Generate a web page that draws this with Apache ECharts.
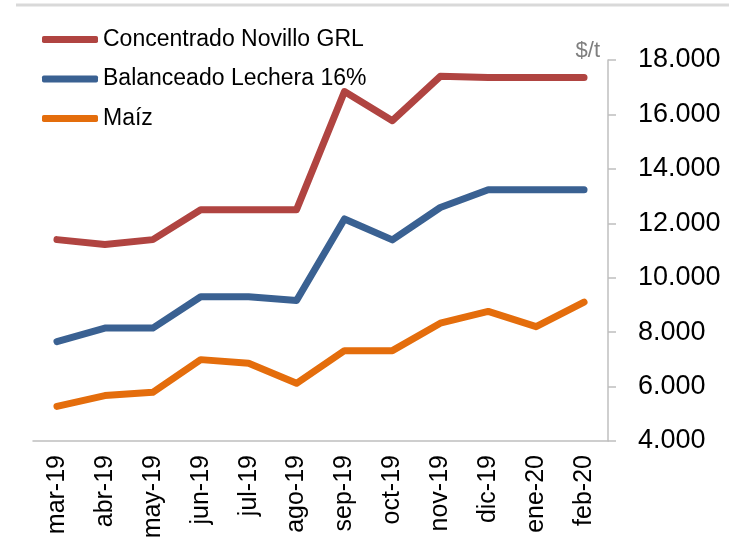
<!DOCTYPE html>
<html>
<head>
<meta charset="utf-8">
<script src="https://cdn.jsdelivr.net/npm/echarts@6/dist/echarts.min.js"></script>
<style>
  html, body { margin: 0; padding: 0; background: #fff; }
  #chart { width: 729px; height: 543px; }
</style>
</head>
<body>
<div id="chart"></div>
<script>
const months = ["mar-19", "abr-19", "may-19", "jun-19", "jul-19", "ago-19",
  "sep-19", "oct-19", "nov-19", "dic-19", "ene-20", "feb-20"];
const concentradoNovillo = [11400, 11220, 11400, 12500, 12500, 12500,
  16840, 15770, 17400, 17360, 17360, 17360];
const balanceadoLechera = [7650, 8150, 8150, 9300, 9300, 9160,
  12160, 11390, 12580, 13230, 13230, 13230];
const maiz = [5270, 5670, 5790, 6990, 6860, 6120,
  7320, 7320, 8330, 8760, 8200, 9100];

const seriesNames = ["Concentrado Novillo GRL", "Balanceado Lechera 16%", "Maíz"];
const seriesColors = ["#b04441", "#3a6192", "#e46d0c"];
const yTicks = { min: 4000, max: 18000, step: 2000 };

const font = '"Liberation Sans", Arial, sans-serif';
const chart = echarts.init(document.getElementById("chart"), null, { renderer: "canvas" });

function lineSeries(name, data, color) {
  return {
    type: "line",
    name: name,
    data: data,
    symbol: "none",
    color: color,
    lineStyle: { width: 7, color: color, cap: "round", join: "round" },
    animation: false,
  };
}

chart.setOption({
  animation: false,
  grid: { left: 33, right: 121, top: 60, bottom: 102 },
  graphic: [{
    type: "line",
    shape: { x1: 16, y1: 5, x2: 729, y2: 5 },
    style: { stroke: "#d9d9d9", lineWidth: 3 },
  }],
  legend: {
    orient: "vertical",
    left: 42,
    top: 28,
    padding: 0,
    itemWidth: 56,
    itemHeight: 7,
    itemGap: 16.5,
    icon: "roundRect",
    textStyle: { fontFamily: font, fontSize: 23, color: "#000", lineHeight: 22 },
    data: seriesNames,
  },
  xAxis: {
    type: "category",
    data: months,
    axisLine: { lineStyle: { color: "#bfbfbf", width: 1.5 } },
    axisTick: { length: 7, lineStyle: { color: "#bfbfbf", width: 1.5 } },
    axisLabel: { rotate: 90, fontFamily: font, fontSize: 25, color: "#000", margin: 14, interval: 0 },
  },
  yAxis: {
    type: "value",
    position: "right",
    min: yTicks.min,
    max: yTicks.max,
    interval: yTicks.step,
    name: "$/t",
    nameLocation: "end",
    nameGap: -2,
    nameTextStyle: { fontFamily: font, fontSize: 22, color: "#7f7f7f", align: "right", padding: [0, 8, 0, 0] },
    splitLine: { show: false },
    axisLine: { show: true, lineStyle: { color: "#bfbfbf", width: 1.5 } },
    axisTick: { show: true, length: 8, lineStyle: { color: "#bfbfbf", width: 1.5 } },
    axisLabel: {
      fontFamily: font, fontSize: 27, color: "#000", margin: 30,
      formatter: (v) => v.toLocaleString("de-DE"),
    },
  },
  series: [
    lineSeries(seriesNames[0], concentradoNovillo, seriesColors[0]),
    lineSeries(seriesNames[1], balanceadoLechera, seriesColors[1]),
    lineSeries(seriesNames[2], maiz, seriesColors[2]),
  ],
});
</script>
</body>
</html>
